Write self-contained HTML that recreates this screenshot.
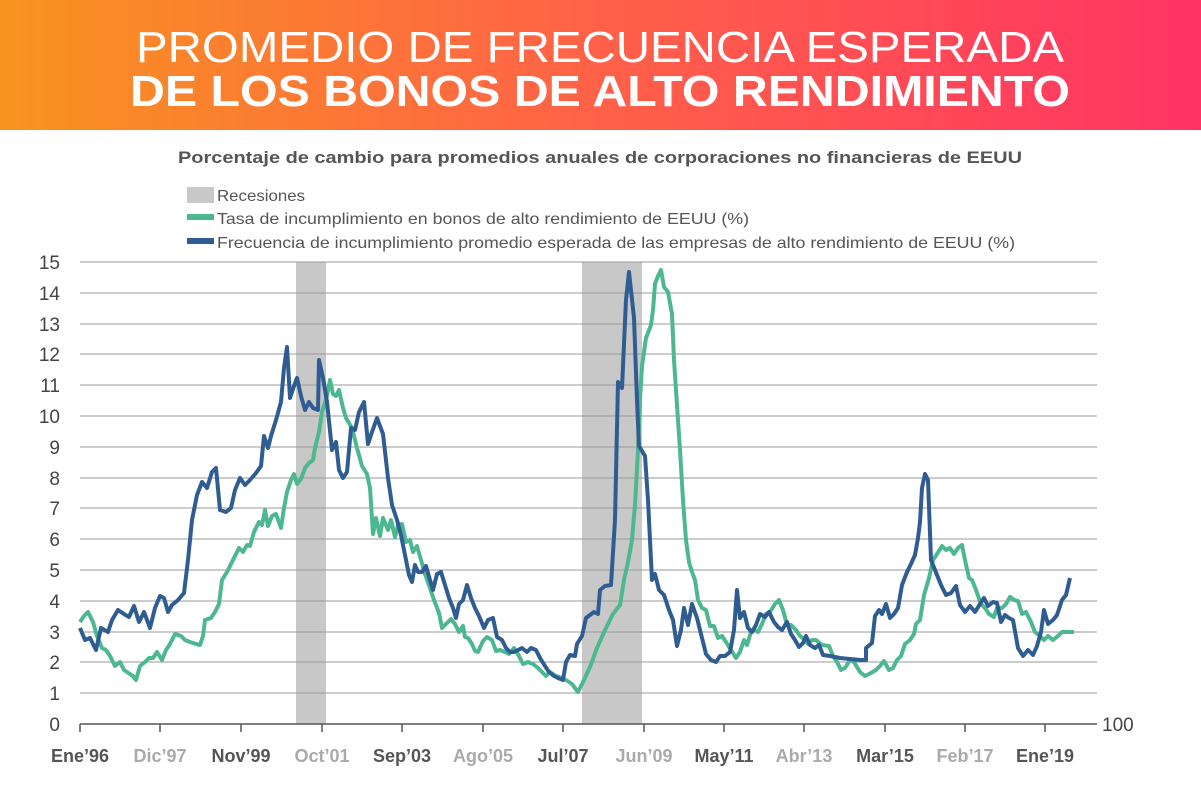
<!DOCTYPE html>
<html><head><meta charset="utf-8"><style>
html,body{margin:0;padding:0;background:#fff;}
svg{display:block;}
</style></head><body>
<svg width="1201" height="796" viewBox="0 0 1201 796" xmlns="http://www.w3.org/2000/svg" font-family="Liberation Sans, sans-serif">
<defs><linearGradient id="g" x1="0" x2="1" y1="0" y2="0"><stop offset="0" stop-color="#f8931f"/><stop offset="0.5" stop-color="#ff6148"/><stop offset="1" stop-color="#ff3464"/></linearGradient></defs>
<rect x="0" y="0" width="1201" height="130" fill="url(#g)"/>
<text x="600" y="62" text-anchor="middle" fill="#fff" font-size="44" textLength="928" lengthAdjust="spacingAndGlyphs">PROMEDIO DE FRECUENCIA ESPERADA</text>
<text x="600" y="106" text-anchor="middle" fill="#fff" font-size="44" font-weight="bold" textLength="940" lengthAdjust="spacingAndGlyphs">DE LOS BONOS DE ALTO RENDIMIENTO</text>
<text x="600" y="163" text-anchor="middle" fill="#555" font-size="17" font-weight="bold" textLength="844" lengthAdjust="spacingAndGlyphs">Porcentaje de cambio para promedios anuales de corporaciones no financieras de EEUU</text>
<rect x="187" y="187" width="27" height="16" fill="#c8c8c8"/>
<text x="217" y="201" fill="#555" font-size="16" textLength="88" lengthAdjust="spacingAndGlyphs">Recesiones</text>
<rect x="187" y="214" width="27" height="6" fill="#4db890"/>
<text x="217" y="224" fill="#555" font-size="16" textLength="532" lengthAdjust="spacingAndGlyphs">Tasa de incumplimiento en bonos de alto rendimiento de EEUU (%)</text>
<rect x="187" y="238" width="27" height="6" fill="#2f5d92"/>
<text x="217" y="248" fill="#555" font-size="16" textLength="798" lengthAdjust="spacingAndGlyphs">Frecuencia de incumplimiento promedio esperada de las empresas de alto rendimiento de EEUU (%)</text>
<rect x="296" y="262" width="30" height="462" fill="#c8c8c8"/>
<rect x="582" y="262" width="60" height="462" fill="#c8c8c8"/>
<g stroke="#9a9a9a" stroke-width="1">
<line x1="80" x2="1097" y1="262" y2="262"/><line x1="80" x2="1097" y1="293" y2="293"/><line x1="80" x2="1097" y1="324" y2="324"/><line x1="80" x2="1097" y1="354" y2="354"/><line x1="80" x2="1097" y1="385" y2="385"/><line x1="80" x2="1097" y1="416" y2="416"/><line x1="80" x2="1097" y1="447" y2="447"/><line x1="80" x2="1097" y1="478" y2="478"/><line x1="80" x2="1097" y1="508" y2="508"/><line x1="80" x2="1097" y1="539" y2="539"/><line x1="80" x2="1097" y1="570" y2="570"/><line x1="80" x2="1097" y1="601" y2="601"/><line x1="80" x2="1097" y1="632" y2="632"/><line x1="80" x2="1097" y1="662" y2="662"/><line x1="80" x2="1097" y1="693" y2="693"/>
</g>
<line x1="80" x2="1097" y1="724" y2="724" stroke="#555" stroke-width="1.5"/>
<g stroke="#555" stroke-width="1.5">
<line x1="80" x2="80" y1="724" y2="732"/><line x1="160" x2="160" y1="724" y2="732"/><line x1="241" x2="241" y1="724" y2="732"/><line x1="322" x2="322" y1="724" y2="732"/><line x1="402" x2="402" y1="724" y2="732"/><line x1="483" x2="483" y1="724" y2="732"/><line x1="563" x2="563" y1="724" y2="732"/><line x1="644" x2="644" y1="724" y2="732"/><line x1="724" x2="724" y1="724" y2="732"/><line x1="804" x2="804" y1="724" y2="732"/><line x1="885" x2="885" y1="724" y2="732"/><line x1="965" x2="965" y1="724" y2="732"/><line x1="1045" x2="1045" y1="724" y2="732"/>
</g>
<g fill="#444" font-size="19" text-anchor="end">
<text x="60" y="269">15</text><text x="60" y="300">14</text><text x="60" y="331">13</text><text x="60" y="361">12</text><text x="60" y="392">11</text><text x="60" y="423">10</text><text x="60" y="454">9</text><text x="60" y="485">8</text><text x="60" y="515">7</text><text x="60" y="546">6</text><text x="60" y="577">5</text><text x="60" y="608">4</text><text x="60" y="639">3</text><text x="60" y="669">2</text><text x="60" y="700">1</text><text x="60" y="731">0</text>
</g>
<text x="1102" y="731" fill="#444" font-size="19">100</text>
<g font-size="18" font-weight="bold" text-anchor="middle">
<text x="80" y="762" fill="#555">Ene’96</text><text x="160" y="762" fill="#aaa">Dic’97</text><text x="241" y="762" fill="#555">Nov’99</text><text x="322" y="762" fill="#aaa">Oct’01</text><text x="402" y="762" fill="#555">Sep’03</text><text x="483" y="762" fill="#aaa">Ago’05</text><text x="563" y="762" fill="#555">Jul’07</text><text x="644" y="762" fill="#aaa">Jun’09</text><text x="724" y="762" fill="#555">May’11</text><text x="804" y="762" fill="#aaa">Abr’13</text><text x="885" y="762" fill="#555">Mar’15</text><text x="965" y="762" fill="#aaa">Feb’17</text><text x="1045" y="762" fill="#555">Ene’19</text>
</g>
<polyline fill="none" stroke="#4db890" stroke-width="4" stroke-linejoin="round" points="80,622 84,616 88,612 93,622 97,636 102,648 106,650 110,656 115,666 120,662 124,670 127,672 133,676 136,680 140,666 145,662 149,658 153,658 157,652 162,660 166,650 170,644 175,634 181,636 185,640 190,642 196,644 200,645 203,636 205,620 211,618 215,612 219,604 222,580 227,572 231,564 235,556 239,548 243,552 247,545 250,546 254,532 259,522 262,525 265,510 268,526 272,516 276,514 281,528 284,508 287,492 291,480 294,474 297,484 301,479 305,468 309,463 313,460 315,448 319,432 322,412 327,396 330,380 333,394 336,396 339,390 343,408 346,418 352,428 357,448 362,466 367,474 370,488 373,534 376,518 380,536 383,518 388,530 391,520 395,537 398,525 402,524 406,542 410,540 413,552 417,546 421,560 425,574 430,588 434,600 439,613 442,628 446,624 451,619 455,624 459,632 463,626 465,637 468,638 472,644 475,651 478,652 483,641 487,637 492,640 496,651 500,650 505,652 509,654 514,648 519,656 523,664 528,662 533,664 538,668 542,672 546,676 550,672 556,676 562,678 566,680 572,684 578,692 583,682 590,667 597,648 605,630 613,614 620,605 624,580 628,562 632,540 635,505 638,450 640,400 642,366 646,338 651,325 653,310 655,284 658,276 661,270 664,287 668,292 672,314 674,360 677,405 680,450 683,500 686,540 689,562 692,572 695,580 698,600 702,608 706,610 710,626 714,626 718,638 722,636 726,642 731,650 736,658 740,652 744,640 747,645 751,632 754,630 758,632 762,624 766,614 770,612 775,604 779,600 783,610 787,625 791,625 796,630 800,636 804,639 808,644 812,640 816,640 822,645 829,646 833,656 837,662 841,670 845,668 850,660 854,662 860,672 865,676 871,673 876,670 880,666 884,661 889,670 893,668 897,660 901,656 905,644 910,640 914,634 916,624 920,620 924,595 929,578 933,560 937,554 942,546 946,550 950,548 954,554 958,548 962,545 965,560 969,578 972,580 976,590 981,604 985,608 989,614 994,617 997,608 1002,608 1006,604 1010,597 1014,600 1018,601 1022,614 1026,612 1031,622 1035,632 1040,636 1044,640 1048,636 1053,640 1058,636 1062,632 1066,632 1074,632"/>
<polyline fill="none" stroke="#2f5d92" stroke-width="4" stroke-linejoin="round" points="80,628 85,640 90,638 96,650 101,628 108,632 112,620 118,610 124,614 129,617 134,606 139,622 144,612 150,628 155,608 160,596 164,598 168,612 172,605 178,600 184,593 188,560 192,520 197,495 202,482 207,488 212,472 216,468 220,510 226,512 231,508 235,490 240,478 245,485 250,480 256,473 261,466 264,436 268,448 271,436 276,420 281,402 284,368 287,347 290,398 294,386 297,378 301,396 305,410 309,402 313,408 318,410 319,360 323,378 327,402 332,450 336,442 339,470 343,478 347,472 351,428 355,430 359,412 364,402 368,444 372,432 377,418 383,434 388,478 392,505 397,520 401,535 405,555 409,575 412,582 415,565 418,572 422,572 426,566 430,580 433,590 437,574 441,572 445,585 449,598 453,608 456,618 459,604 463,600 467,585 471,598 475,608 479,616 484,628 488,620 493,618 497,637 502,640 506,648 510,652 514,652 518,650 522,648 527,652 531,648 536,650 540,658 545,666 549,672 554,676 558,678 563,680 566,662 570,655 575,656 577,644 582,636 586,618 590,615 594,612 598,614 600,590 605,586 611,585 615,520 618,382 622,388 626,300 629,272 634,318 637,400 639,446 645,456 648,500 652,580 655,574 659,590 664,595 669,610 673,620 677,646 681,630 684,608 688,625 692,604 697,618 701,634 706,654 711,660 716,662 720,656 725,656 730,652 734,630 737,590 740,618 744,612 748,628 752,632 756,625 760,614 765,617 769,612 774,622 778,627 782,630 787,622 791,634 795,640 799,647 803,643 806,636 810,645 815,648 819,645 823,655 830,656 840,658 850,659 860,660 866,660 866,648 872,643 875,616 879,610 882,614 886,604 890,618 894,614 898,608 902,585 907,572 910,566 915,555 918,538 920,522 922,488 925,474 928,480 931,560 935,570 941,585 946,595 951,593 956,586 960,605 965,612 970,606 975,612 980,604 984,598 988,606 993,602 997,603 1001,622 1005,615 1009,618 1013,620 1018,648 1023,656 1028,650 1033,655 1037,646 1041,632 1044,610 1048,624 1053,620 1057,615 1062,600 1066,595 1070,578"/>
</svg>
</body></html>
